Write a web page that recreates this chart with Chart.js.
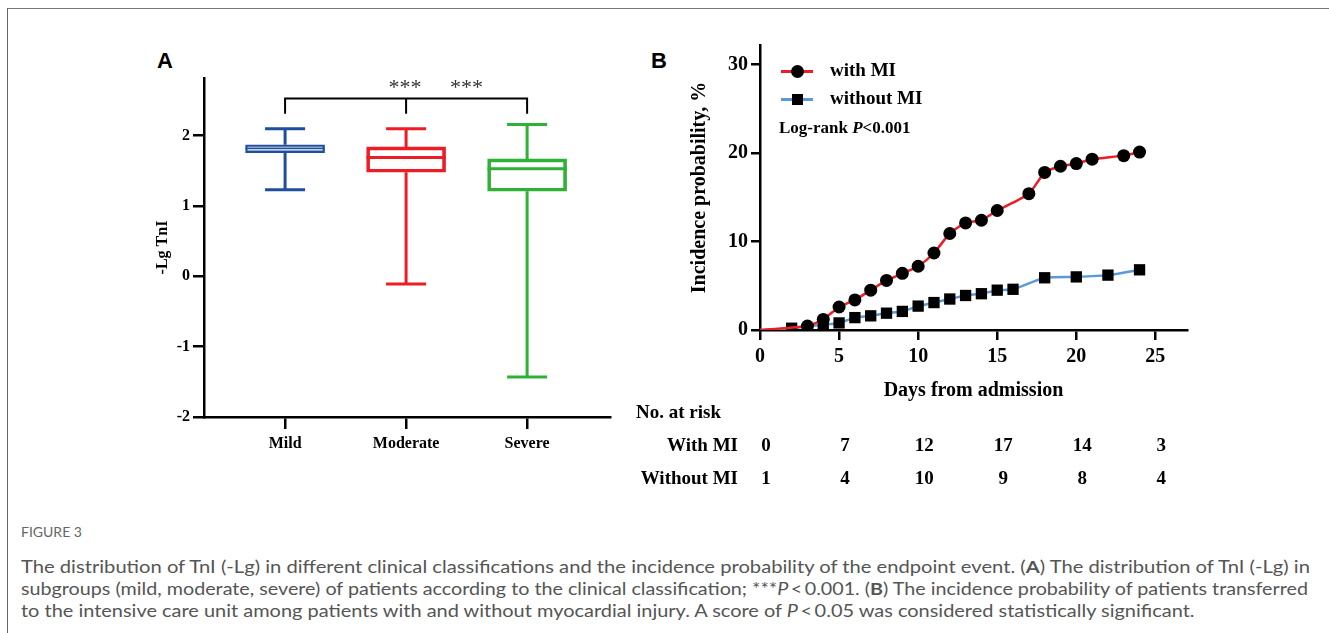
<!DOCTYPE html>
<html>
<head>
<meta charset="utf-8">
<script src="https://cdn.jsdelivr.net/npm/chart.js@4.4.1/dist/chart.umd.min.js"></script>
<style>
  body { margin: 0; background: #fff; width: 1329px; height: 633px; position: relative; overflow: hidden; }
  #frameTop { position: absolute; left: 7px; top: 8px; width: 1322px; height: 0; border-top: 1px solid #777; }
  #frameLeft { position: absolute; left: 7px; top: 8px; width: 0; height: 625px; border-left: 1px solid #666; }
  canvas { position: absolute; }
  #chartA { left: 140px; top: 30px; }
  #chartB { left: 620px; top: 30px; }
  .panel { position: absolute; font: bold 22px "Liberation Sans", Arial, sans-serif; color: #000; }
  .leg { position: absolute; font: bold 19px "Liberation Serif", "Times New Roman", serif; color: #000; white-space: nowrap; }
  .legLine { position: absolute; height: 3px; width: 32px; }
  .legMark { position: absolute; background: #000; }
  .cap { position: absolute; left: 21px; white-space: nowrap; color: #555; transform-origin: 0 50%;
         font-family: Lato, "Open Sans", sans-serif; font-size: 17.5px; line-height: 22px; }
  .cap b { font-weight: bold; }
</style>
</head>
<body>
<div id="frameTop"></div>
<div id="frameLeft"></div>

<div class="panel" style="left:157px;top:48px;">A</div>
<div class="panel" style="left:651px;top:48px;">B</div>

<canvas id="chartA" width="490" height="440"></canvas>
<canvas id="chartB" width="590" height="470"></canvas>

<!-- legend for panel B -->
<div class="legLine" style="left:781px;top:70px;background:#ee1c24;"></div>
<div class="legMark" style="left:791px;top:65px;width:13px;height:13px;border-radius:50%;"></div>
<div class="leg" style="left:830px;top:59px;">with MI</div>
<div class="legLine" style="left:781px;top:98px;background:#5b9bd5;"></div>
<div class="legMark" style="left:792px;top:94px;width:11px;height:11px;"></div>
<div class="leg" style="left:830px;top:87px;">without MI</div>
<div class="leg" style="left:779px;top:118px;font-size:17px;">Log-rank <i>P</i>&lt;0.001</div>

<div class="cap" style="top:521px;font-size:14px;color:#666;">FIGURE 3</div>
<div class="cap line" style="top:556px;">The distribution of TnI (-Lg) in different clinical classifications and the incidence probability of the endpoint event. (<b>A</b>) The distribution of TnI (-Lg) in</div>
<div class="cap line" style="top:578px;">subgroups (mild, moderate, severe) of patients according to the clinical classification; ***<i>P</i>&thinsp;&lt;&thinsp;0.001. (<b>B</b>) The incidence probability of patients transferred</div>
<div class="cap line" style="top:600px;">to the intensive care unit among patients with and without myocardial injury. A score of <i>P</i>&thinsp;&lt;&thinsp;0.05 was considered statistically significant.</div>

<script>
// Panel A: box plot values (-Lg TnI)
const groups = ["Mild", "Moderate", "Severe"];
const whiskerLow = [1.23, -0.11, -1.43];
const q1 = [1.76, 1.48, 1.21];
const median = [1.82, 1.69, 1.53];
const q3 = [1.87, 1.84, 1.67];
const whiskerHigh = [2.10, 2.10, 2.16];
const groupColors = ["#1f4e9f", "#ee1c24", "#2eb135"];
const boxLineWidths = [1.6, 3, 3];
const ticksA = [-2, -1, 0, 1, 2];

// Panel B: incidence probability (%) by day
const daysWith = [0, 3, 4, 5, 6, 7, 8, 9, 10, 11, 12, 13, 14, 15, 17, 18, 19, 20, 21, 23, 24];
const probWith = [0, 0.45, 1.2, 2.6, 3.4, 4.5, 5.6, 6.4, 7.2, 8.7, 10.9, 12.1, 12.4, 13.5, 15.4, 17.8, 18.5, 18.8, 19.3, 19.7, 20.1];
const daysWithout = [0, 2, 4, 5, 6, 7, 8, 9, 10, 11, 12, 13, 14, 15, 16, 18, 20, 22, 24];
const probWithout = [0, 0.2, 0.6, 0.8, 1.4, 1.6, 1.9, 2.1, 2.7, 3.1, 3.5, 3.9, 4.1, 4.5, 4.6, 5.9, 6.0, 6.2, 6.8];
const dayTicks = [0, 5, 10, 15, 20, 25];
const probTicks = [0, 10, 20, 30];

// Number at risk table
const riskDays = [0, 5, 10, 15, 20, 25];
const riskWith = [0, 7, 12, 17, 14, 3];
const riskWithout = [1, 4, 10, 9, 8, 4];

const serif = "'Liberation Serif', 'Times New Roman', serif";

function axisLook(tickLength) {
  return {
    grid: { display: true, offset: false, drawOnChartArea: false, drawTicks: true, tickLength: tickLength, color: "#000", lineWidth: 2.5 },
    border: { display: true, color: "#000", width: 2.5 }
  };
}

// whiskers, caps and medians for the boxes
const whiskerPlugin = {
  id: "whiskers",
  afterDatasetsDraw(chart) {
    const ctx = chart.ctx;
    const xs = chart.scales.x, ys = chart.scales.y;
    const meta = chart.getDatasetMeta(0);
    ctx.save();
    groups.forEach((g, i) => {
      const x = xs.getPixelForValue(i);
      const half = meta.data[i].width / 2;
      ctx.strokeStyle = groupColors[i];
      ctx.lineWidth = 3;
      ctx.beginPath();
      ctx.moveTo(x, ys.getPixelForValue(whiskerHigh[i]));
      ctx.lineTo(x, ys.getPixelForValue(q3[i]));
      ctx.moveTo(x, ys.getPixelForValue(q1[i]));
      ctx.lineTo(x, ys.getPixelForValue(whiskerLow[i]));
      ctx.moveTo(x - 20, ys.getPixelForValue(whiskerHigh[i]));
      ctx.lineTo(x + 20, ys.getPixelForValue(whiskerHigh[i]));
      ctx.moveTo(x - 20, ys.getPixelForValue(whiskerLow[i]));
      ctx.lineTo(x + 20, ys.getPixelForValue(whiskerLow[i]));
      ctx.stroke();
      ctx.lineWidth = boxLineWidths[i];
      ctx.beginPath();
      ctx.moveTo(x - half, ys.getPixelForValue(median[i]));
      ctx.lineTo(x + half, ys.getPixelForValue(median[i]));
      ctx.stroke();
    });
    // significance bracket
    const top = ys.getPixelForValue(2.53), foot = ys.getPixelForValue(2.31);
    ctx.strokeStyle = "#000";
    ctx.lineWidth = 2;
    ctx.beginPath();
    ctx.moveTo(xs.getPixelForValue(0), foot);
    ctx.lineTo(xs.getPixelForValue(0), top);
    ctx.lineTo(xs.getPixelForValue(2), top);
    ctx.lineTo(xs.getPixelForValue(2), foot);
    ctx.moveTo(xs.getPixelForValue(1), top);
    ctx.lineTo(xs.getPixelForValue(1), foot);
    ctx.stroke();
    ctx.fillStyle = "#333";
    ctx.font = "22px " + serif;
    ctx.textAlign = "center";
    ctx.textBaseline = "middle";
    ctx.fillText("***", xs.getPixelForValue(0.99), ys.getPixelForValue(2.68));
    ctx.fillText("***", xs.getPixelForValue(1.5), ys.getPixelForValue(2.68));
    ctx.restore();
  }
};

new Chart(document.getElementById("chartA"), {
  type: "bar",
  data: {
    datasets: [{
      data: groups.map((g, i) => ({ x: i, y: [q1[i], q3[i]] })),
      backgroundColor: "rgba(0,0,0,0)",
      borderColor: groupColors,
      borderWidth: boxLineWidths,
      borderSkipped: false,
      barThickness: 79
    }]
  },
  options: {
    responsive: false,
    animation: false,
    layout: { padding: { top: 48, right: 20, left: 0, bottom: 0 } },
    plugins: { legend: { display: false }, tooltip: { enabled: false } },
    scales: {
      x: {
        type: "linear",
        min: -0.67,
        max: 2.685,
        offset: false,
        ...axisLook(12),
        afterBuildTicks: s => { s.ticks = groups.map((g, i) => ({ value: i })); },
        afterFit: s => { s.height = 53; },
        ticks: { color: "#000", padding: 5, font: { family: serif, size: 16, weight: "bold" },
                 callback: v => groups[v] },
      },
      y: {
        min: -2,
        max: 2.82,
        ...axisLook(11),
        afterBuildTicks: s => { s.ticks = ticksA.map(v => ({ value: v })); },
        afterFit: s => { s.width = 64; },
        ticks: { color: "#000", padding: 3, font: { family: serif, size: 16, weight: "bold" } },
        title: { display: true, text: "-Lg TnI", color: "#000", padding: { top: 13, bottom: 0 },
                 font: { family: serif, size: 16, weight: "bold" } }
      }
    }
  },
  plugins: [whiskerPlugin]
});

// number-at-risk table under the x axis of panel B
const riskTablePlugin = {
  id: "riskTable",
  afterDraw(chart) {
    const ctx = chart.ctx;
    const xs = chart.scales.x;
    ctx.save();
    ctx.fillStyle = "#000";
    ctx.font = "bold 19px " + serif;
    ctx.textBaseline = "middle";
    ctx.textAlign = "left";
    ctx.fillText("No. at risk", 16, 383);
    ctx.textAlign = "right";
    ctx.fillText("With MI", 118, 416);
    ctx.fillText("Without MI", 118, 449);
    ctx.textAlign = "center";
    riskDays.forEach((d, i) => {
      const x = xs.getPixelForValue(d) + 6;
      ctx.fillText(String(riskWith[i]), x, 416);
      ctx.fillText(String(riskWithout[i]), x, 449);
    });
    ctx.restore();
  }
};

new Chart(document.getElementById("chartB"), {
  type: "line",
  data: {
    datasets: [{
      label: "with MI",
      data: daysWith.map((d, i) => ({ x: d, y: probWith[i] })),
      borderColor: "#f01c24",
      borderWidth: 2.5,
      pointStyle: "circle",
      pointRadius: daysWith.map(d => d === 0 ? 0 : 6.5),
      pointBackgroundColor: "#000",
      pointBorderColor: "#000",
      pointBorderWidth: 0,
      tension: 0.2
    }, {
      label: "without MI",
      data: daysWithout.map((d, i) => ({ x: d, y: probWithout[i] })),
      borderColor: "#5b9bd5",
      borderWidth: 2.5,
      pointStyle: "rect",
      pointRadius: daysWithout.map(d => d === 0 ? 0 : 8),
      pointBackgroundColor: "#000",
      pointBorderColor: "#000",
      pointBorderWidth: 0,
      tension: 0.2
    }]
  },
  options: {
    responsive: false,
    animation: false,
    layout: { padding: { left: 60, top: 13, right: 23, bottom: 95 } },
    plugins: { legend: { display: false }, tooltip: { enabled: false } },
    scales: {
      x: {
        type: "linear",
        min: 0,
        max: 27,
        ...axisLook(10),
        afterBuildTicks: s => { s.ticks = dayTicks.map(v => ({ value: v })); },
        afterFit: s => { s.height = 75; },
        ticks: { color: "#000", padding: 5, font: { family: serif, size: 20, weight: "bold" } },
        title: { display: true, text: "Days from admission", color: "#000", padding: { top: 0, bottom: 2 },
                 font: { family: serif, size: 20, weight: "bold" } }
      },
      y: {
        min: 0,
        max: 32.2,
        ...axisLook(9),
        afterBuildTicks: s => { s.ticks = probTicks.map(v => ({ value: v })); },
        afterFit: s => { s.width = 80; },
        ticks: { color: "#000", padding: 3, font: { family: serif, size: 20, weight: "bold" } },
        title: { display: true, text: "Incidence probability, %", color: "#000", padding: { top: 8, bottom: 0 },
                 font: { family: serif, size: 20, weight: "bold" } }
      }
    }
  },
  plugins: [riskTablePlugin]
});

// squeeze/stretch caption lines so lines 1 and 2 end where they do in the figure
const capLines = document.querySelectorAll(".cap.line");
const lineEnds = [1289, 1287];
const factors = lineEnds.map((w, i) => w / capLines[i].getBoundingClientRect().width);
factors.push((factors[0] + factors[1]) / 2);
capLines.forEach((el, i) => { el.style.transform = "scaleX(" + factors[i].toFixed(4) + ")"; });
</script>
</body>
</html>
